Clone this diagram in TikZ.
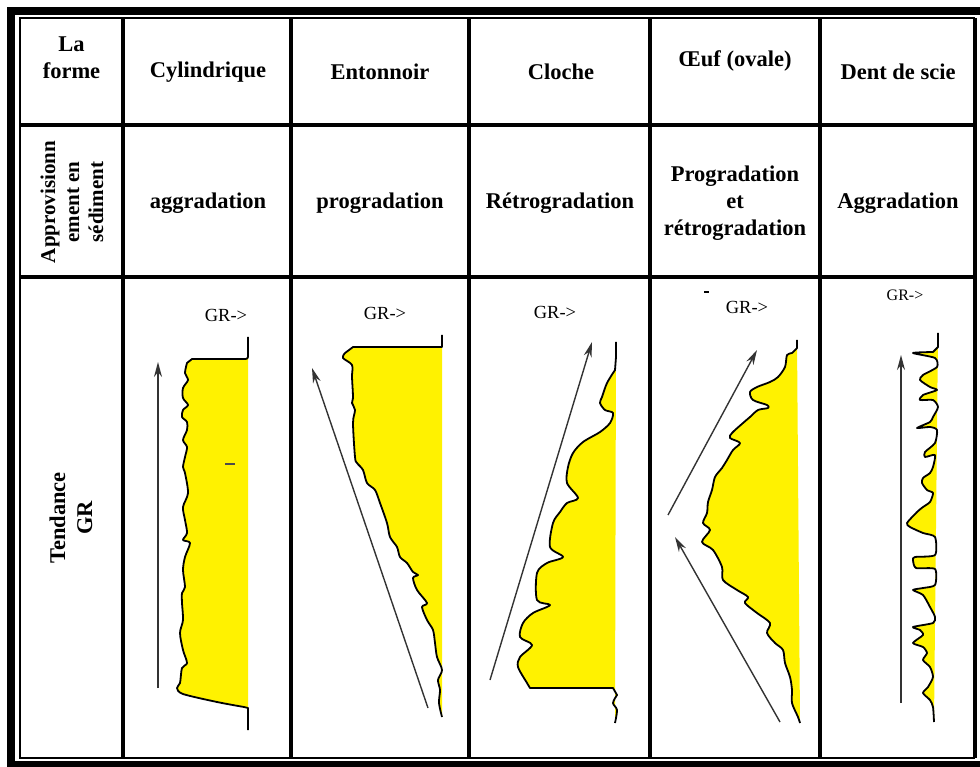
\documentclass[tikz,border=0pt]{standalone}
\usepackage{fontspec}
\setmainfont{Liberation Serif}
\usetikzlibrary{arrows.meta}

\begin{document}
\begin{tikzpicture}[x=1pt,y=-1pt,>={Stealth[length=15pt,width=8pt]},
  hdr/.style={font=\fontsize{22.5}{27}\selectfont\bfseries,align=center,inner sep=0pt},
  side/.style={hdr,rotate=90},
  gr/.style={font=\fontsize{18.5}{22}\selectfont,inner sep=0pt},
  sep/.style={line width=4pt},
  trend/.style={->,draw=black!80,line width=1.4pt},
  logline/.style={draw=black,line width=1.8pt,fill=yellow,line join=round}]
  \useasboundingbox (0,0) rectangle (980,767);

  % frame and grid
  \fill (7,7) rectangle (980,15);
  \fill (7,7) rectangle (15,767);
  \fill (7,761) rectangle (980,767);
  \draw[line width=2.5pt] (975,18) -- (20,18) -- (20,758) -- (975,758);
  \foreach \x in {123,291,469,650,820,975}
    \draw[sep] (\x,18) -- (\x,758);
  \foreach \y in {125,277}
    \draw[sep] (20,\y) -- (975,\y);

  % first row
  \node[hdr] (forme) at (71.5,58) {La\\forme};
  \node[hdr] (cyl)   at (208,72) {Cylindrique};
  \node[hdr] (ent)   at (380,72) {Entonnoir};
  \node[hdr] (clo)   at (561,72) {Cloche};
  \node[hdr] (oeuf)  at (735,61) {Œuf (ovale)};
  \node[hdr] (dent)  at (898,72) {Dent de scie};

  % second row
  \node[side,font=\fontsize{21}{24}\selectfont\bfseries] (appro) at (72,202) {Approvisionn\\ement en\\sédiment};
  \node[hdr] (agg)   at (208,203) {aggradation};
  \node[hdr] (prog)  at (380,203) {progradation};
  \node[hdr] (retro) at (560,203) {Rétrogradation};
  \node[hdr] (mixt)  at (735,203) {Progradation\\et\\rétrogradation};
  \node[hdr] (aggb)  at (898,203) {Aggradation};

  % third row
  \node[side] (tend) at (71,518) {Tendance\\GR};
  \node[gr] (grcyl)  at (226,315) {GR->};
  \node[gr] (grent)  at (385,313) {GR->};
  \node[gr] (grclo)  at (555,312) {GR->};
  \node[gr] (groeuf) at (747,307) {GR->};
  \node[gr,font=\fontsize{16}{18}\selectfont] (grdent) at (905,295) {GR->};

  % cylindrique
  \filldraw[logline] (248,337) -- (248,354) .. controls (248,359) .. (243,359) -- (192,359)
    -- plot[smooth,tension=0.5] coordinates {(187,363) (185,373) (188,380) (183,388) (183,398)
      (188,405) (183,410) (182,417) (187,422) (187,430) (183,440) (187,447) (185,457) (183,467)
      (185,473) (188,493) (183,507) (185,520) (187,533) (183,540) (190,543) (185,557) (183,570)
      (185,587) (182,593) (182,603) (183,620) (180,633) (183,650) (187,663) (182,668) (180,683)
      (177,688) (183,694) (217,702) (244,707)}
    -- (248,708) -- (248,730);
  \draw[trend] (158,688) -- (158,362);
  \draw[black!70,line width=1.2pt] (225,464) -- (235,464);

  % entonnoir
  \filldraw[logline] (442,335) -- (442,347) -- (353,347)
    -- plot[smooth,tension=0.5] coordinates {(345,353) (343,358) (352,365) (352,377) (353,397)
      (352,403) (355,410) (353,423) (355,457) (357,463) (363,470) (367,483) (375,490) (380,503)
      (387,523) (390,537) (397,547) (400,557) (407,563) (413,572) (418,575) (413,578) (417,590)
      (427,603) (422,607) (427,620) (433,630) (435,643) (437,657) (442,670) (438,680) (440,690)
      (439,703) (442,717)};
  \draw[trend] (428,708) -- (312,368);

  % cloche
  \filldraw[logline] (616,342) -- (616,357)
    -- plot[smooth,tension=0.5] coordinates {(615,370) (607,383) (602,397) (600,403) (605,410)
      (613,413) (610,423) (600,432) (583,442) (573,453) (568,467) (567,483) (578,498) (567,503)
      (560,512) (553,523) (550,547) (563,557) (547,563) (537,573) (537,600) (550,605) (533,613)
      (523,623) (520,637) (532,645) (520,657) (518,667) (527,683) (530,688)}
    -- (613,688)
    -- plot[smooth,tension=0.5] coordinates {(617,695) (613,703) (617,710) (615,723)};
  \draw[trend] (490,680) -- (592,342);

  % oeuf
  \filldraw[logline] (797,340)
    -- plot[smooth,tension=0.5] coordinates {(797,348) (792,353) (787,355) (785,367) (778,377)
      (770,382) (757,387) (750,392) (753,400) (767,405) (768,408) (758,410) (750,417) (743,423)
      (732,433) (730,438) (740,443) (733,450) (727,460) (722,468) (715,477) (712,490) (708,502)
      (707,513) (703,523) (710,530) (702,542) (713,550) (722,567) (723,580) (737,590) (748,597)
      (745,603) (757,613) (770,623) (767,633) (775,643) (783,650) (785,663) (790,677) (792,690)
      (792,703) (798,717) (800,723)};
  \draw[trend] (668,515) -- (757,350);
  \draw[trend] (780,722) -- (675,537);
  \draw[line width=1.5pt] (704,292) -- (709,292);

  % dent de scie
  \filldraw[logline] (938,333) -- (938,347)
    -- plot[smooth,tension=0.4] coordinates {(933,352) (913,353) (935,358) (937,367) (923,375)
      (920,380) (930,387) (937,390) (923,395) (920,400) (933,400) (938,407) (933,417) (930,422)
      (917,428) (930,427) (937,430) (935,443) (925,452) (925,457) (935,455) (933,467) (930,473)
      (923,478) (922,483) (927,490) (933,493) (930,502) (923,507) (917,512) (907,523) (910,527)
      (923,533) (935,537) (935,555) (915,557) (913,560) (916,568) (935,569) (935,585) (923,588)
      (913,590) (923,595) (930,607) (935,617) (933,623) (913,627) (920,630) (923,635) (913,643)
      (923,647) (927,653) (923,660) (930,667) (933,677) (928,687) (923,693) (930,700) (933,707)
      (934,722)};
  \draw[trend] (901,703) -- (901,355);
\end{tikzpicture}
\end{document}
